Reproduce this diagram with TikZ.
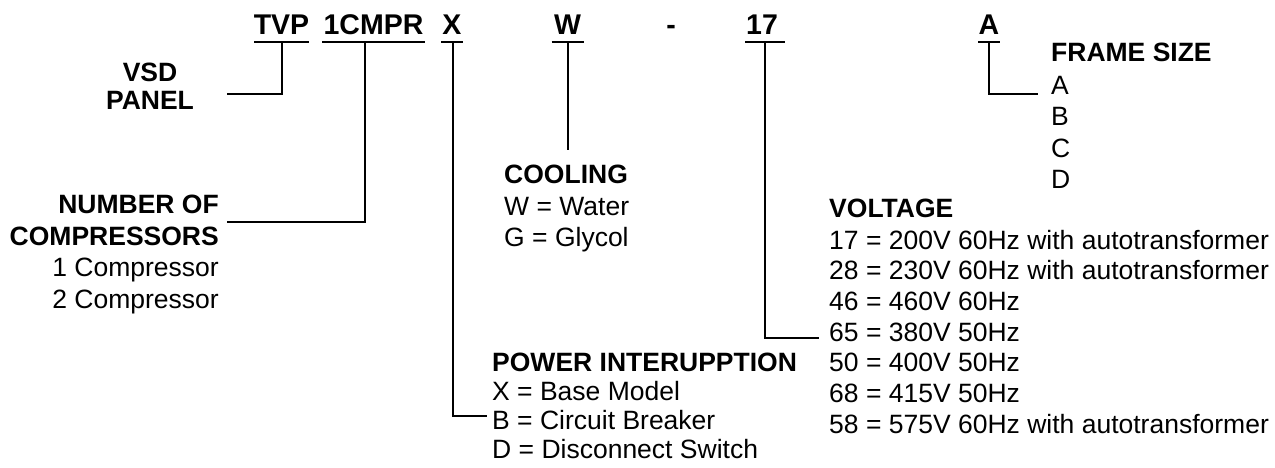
\documentclass[tikz,border=0pt]{standalone}
\usepackage{fontspec}
\setmainfont{Liberation Sans}
\begin{document}
\begin{tikzpicture}[x=1pt,y=-1pt,
  lbl/.style={inner sep=0pt, font=\fontsize{26.5}{30}\selectfont},
  hd/.style={inner sep=0pt, font=\fontsize{26.5}{30}\selectfont\bfseries},
  code/.style={inner sep=0pt, anchor=base, font=\fontsize{28.5}{32}\selectfont\bfseries},
  conn/.style={line width=2pt},
  uline/.style={line width=2pt}]
\path[use as bounding box] (0,0) rectangle (1275,468);

% model code
\node[code] (tvp)  at (281.5,35) {TVP};
\node[code] (cmpr) at (373.5,35) {1CMPR};
\node[code] (xc)   at (452,35) {X};
\node[code] (wc)   at (567.5,35) {W};
\node[code] (dash) at (671,35) {-};
\node[code] (v17)  at (762,35) {17};
\node[code] (ac)   at (989,35) {A};

% underlines
\draw[uline] (254,42) -- (309,42);
\draw[uline] (322,42) -- (425,42);
\draw[uline] (441,42) -- (463,42);
\draw[uline] (551.5,42) -- (584,42);
\draw[uline] (745,42) -- (785,42);
\draw[uline] (978,42) -- (1000,42);

% labels: VSD panel
\node[hd, anchor=base] (vsd) at (150,82) {VSD};
\node[hd, anchor=base] (panel) at (150,110) {PANEL};

% number of compressors
\node[hd, anchor=base east] (nof) at (219,213.5) {NUMBER OF};
\node[hd, anchor=base east] (comp) at (219,245) {COMPRESSORS};
\node[lbl, anchor=base east] (c1) at (219,276.5) {1 Compressor};
\node[lbl, anchor=base east] (c2) at (219,308) {2 Compressor};

% cooling
\node[hd, anchor=base west] (cool) at (504,183) {COOLING};
\node[lbl, anchor=base west] (cw) at (504,215) {W = Water};
\node[lbl, anchor=base west] (cg) at (504,246.5) {G = Glycol};

% power interruption
\node[hd, anchor=base west] (pi) at (492,371) {POWER INTERUPPTION};
\node[lbl, anchor=base west] (px) at (492,400) {X = Base Model};
\node[lbl, anchor=base west] (pb) at (492,429) {B = Circuit Breaker};
\node[lbl, anchor=base west] (pd) at (492,458) {D = Disconnect Switch};

% voltage
\node[hd, anchor=base west] (volt) at (829,218) {VOLTAGE};
\node[lbl, anchor=base west] (u17) at (829,249) {17 = 200V 60Hz with autotransformer};
\node[lbl, anchor=base west] (u28) at (829,279.7) {28 = 230V 60Hz with autotransformer};
\node[lbl, anchor=base west] (u46) at (829,310.4) {46 = 460V 60Hz};
\node[lbl, anchor=base west] (u65) at (829,341.1) {65 = 380V 50Hz};
\node[lbl, anchor=base west] (u50) at (829,371.8) {50 = 400V 50Hz};
\node[lbl, anchor=base west] (u68) at (829,402.5) {68 = 415V 50Hz};
\node[lbl, anchor=base west] (u58) at (829,433.2) {58 = 575V 60Hz with autotransformer};

% frame size
\node[hd, anchor=base west] (fs) at (1051,62) {FRAME SIZE};
\node[lbl, anchor=base west] (fa) at (1051,94.5) {A};
\node[lbl, anchor=base west] (fb) at (1051,126) {B};
\node[lbl, anchor=base west] (fc) at (1051,157.5) {C};
\node[lbl, anchor=base west] (fd) at (1051,189) {D};

% connector ends
\coordinate (tvpT) at (281.7,42);
\coordinate (vsdE) at (227,94);
\coordinate (cmprT) at (365,42);
\coordinate (nofE) at (227,222);
\coordinate (xT) at (453,42);
\coordinate (pbE) at (487,416);
\coordinate (wT) at (568,42);
\coordinate (coolE) at (568,150);
\coordinate (v17T) at (765,42);
\coordinate (u65E) at (819,338);
\coordinate (aT) at (989,42);
\coordinate (faE) at (1038,94);

% connectors
\draw[conn] (tvpT) |- (vsdE);
\draw[conn] (cmprT) |- (nofE);
\draw[conn] (xT) |- (pbE);
\draw[conn] (wT) -- (coolE);
\draw[conn] (v17T) |- (u65E);
\draw[conn] (aT) |- (faE);
\end{tikzpicture}
\end{document}
